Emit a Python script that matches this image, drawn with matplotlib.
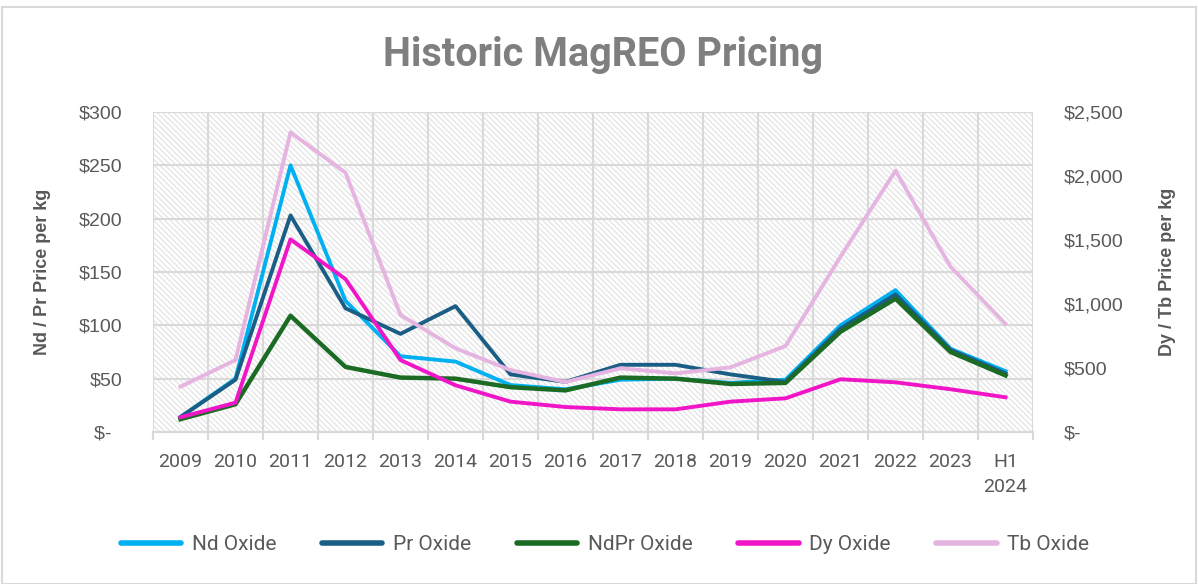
import matplotlib.pyplot as plt
from matplotlib.patches import Rectangle
from matplotlib.lines import Line2D

# Datos
years = ["2009", "2010", "2011", "2012", "2013", "2014", "2015", "2016",
         "2017", "2018", "2019", "2020", "2021", "2022", "2023", "H1\n2024"]
nd_oxide = [14, 50, 250, 123, 71, 66, 44, 40, 49, 50, 46, 49, 100, 133, 78, 57]
pr_oxide = [14, 49, 203, 116, 92, 118, 54, 47, 63, 63, 54, 47, 97, 129, 77, 55]
ndpr_oxide = [12, 26, 109, 61, 51, 50, 42, 39, 51, 50, 45, 46, 94, 125, 75, 53]
dy_oxide = [115, 229, 1505, 1195, 562, 365, 237, 195, 177, 177, 237, 263, 412, 388, 334, 271]
tb_oxide = [354, 562, 2341, 2026, 914, 654, 484, 390, 498, 458, 505, 672, 1370, 2041, 1291, 844]

left_ticks = [0, 50, 100, 150, 200, 250, 300]
right_ticks = [0, 500, 1000, 1500, 2000, 2500]

GRIS = "#595959"
GRID = "#d9d9d9"
NARROW = ["Roboto", "DejaVu Sans"]
SANS = ["Liberation Sans", "DejaVu Sans"]

fig = plt.figure(figsize=(11.98, 5.84), dpi=100)
fig.patches.append(Rectangle((0.002, 0.0), 0.996, 0.988, transform=fig.transFigure,
                             fill=False, edgecolor=GRID, linewidth=1.5))

ax = fig.add_axes([0.1277, 0.2603, 0.7346, 0.5479])
ax.patch.set_visible(False)
ax.add_patch(Rectangle((0, 0), 1, 1, transform=ax.transAxes, facecolor="white",
                       edgecolor="#e6e6e6", hatch="\\\\\\\\\\\\", linewidth=0, zorder=0))

x = list(range(len(years)))
ax.plot(x, nd_oxide, color="#00B0F0", lw=2.8, label="Nd Oxide", zorder=3)
ax.plot(x, pr_oxide, color="#1A5E85", lw=2.8, label="Pr Oxide", zorder=3)
ax.plot(x, ndpr_oxide, color="#1B6B24", lw=3.2, label="NdPr Oxide", zorder=3)

ax2 = ax.twinx()
ax2.plot(x, dy_oxide, color="#F016C8", lw=2.8, label="Dy Oxide")
ax2.plot(x, tb_oxide, color="#E6B4E0", lw=2.8, label="Tb Oxide")

ax.set_xlim(-0.5, len(years) - 0.5)
ax.set_ylim(0, 300)
ax2.set_ylim(0, 2500)

# eje x: etiquetas en el centro, rejilla entre categorias
ax.set_xticks(x)
ax.set_xticklabels(years, fontsize=14, color=GRIS, family=NARROW, linespacing=1.5)
ax.tick_params(axis="x", which="major", length=0, pad=15)
ax.set_xticks([i - 0.5 for i in range(len(years) + 1)], minor=True)
ax.tick_params(axis="x", which="minor", length=6, color=GRID, width=1.5)
ax.grid(True, which="minor", axis="x", color=GRID, lw=1.5, zorder=1)
ax.grid(True, which="major", axis="y", color=GRID, lw=1.5, zorder=1)
ax.set_axisbelow(True)

ax.set_yticks(left_ticks)
ax.set_yticklabels(["$-  "] + [f"${v}" for v in left_ticks[1:]],
                   fontsize=14, color=GRIS, family=SANS)
ax.tick_params(axis="y", length=0, pad=22)

ax2.set_yticks(right_ticks)
ax2.set_yticklabels(["$-"] + [f"${v:,}" for v in right_ticks[1:]],
                    fontsize=14, color=GRIS, family=SANS)
ax2.tick_params(axis="y", length=0, pad=22)

for a in (ax, ax2):
    for s in ("left", "right", "top"):
        a.spines[s].set_visible(False)
    a.spines["bottom"].set_color(GRID)
    a.spines["bottom"].set_linewidth(1.5)

ax.set_ylabel("Nd / Pr Price per kg", fontsize=13, fontweight="bold", color=GRIS,
              family=SANS, labelpad=20)
ax2.set_ylabel("Dy / Tb Price per kg", fontsize=13, fontweight="bold", color=GRIS,
               family=SANS, labelpad=26)

fig.text(0.503, 0.905, "Historic MagREO Pricing", ha="center", va="center",
         fontsize=28.5, fontweight="bold", color="#7f7f7f", family=NARROW)

handles = [Line2D([], [], color=c, lw=4, solid_capstyle="round") for c in
           ["#00B0F0", "#1A5E85", "#1B6B24", "#F016C8", "#E6B4E0"]]
labels = ["Nd Oxide", "Pr Oxide", "NdPr Oxide", "Dy Oxide", "Tb Oxide"]
fig.legend(handles, labels, loc="center", bbox_to_anchor=(0.505, 0.067), ncol=5,
           frameon=False, handlelength=2.9, columnspacing=2.2, handletextpad=0.5,
           prop={"family": NARROW, "size": 15}, labelcolor=GRIS)

fig.savefig("out.png", dpi=100)
